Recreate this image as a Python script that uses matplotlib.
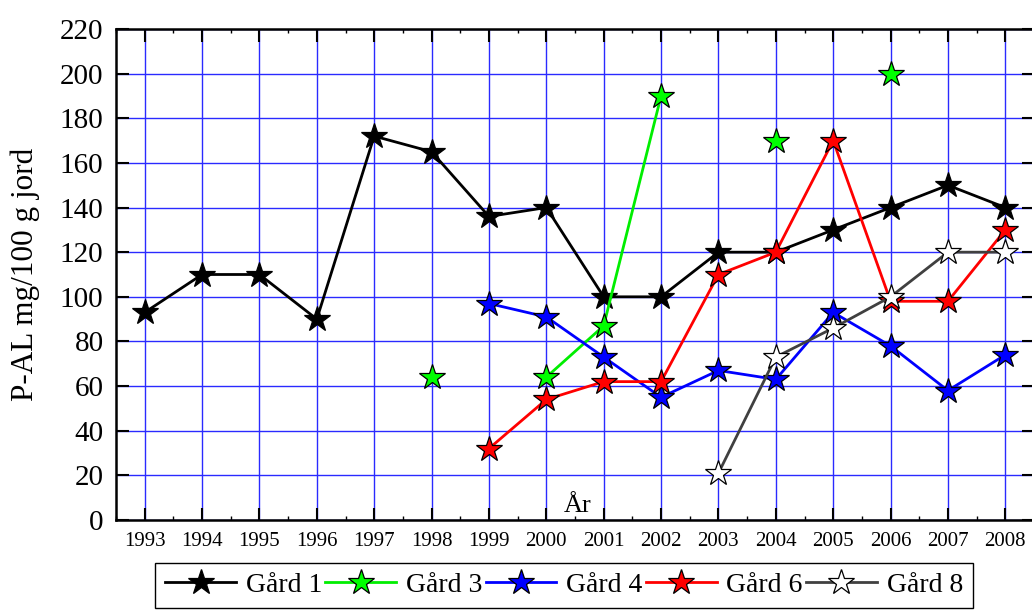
import numpy as np
import matplotlib
matplotlib.use("Agg")
import matplotlib.pyplot as plt
from matplotlib.ticker import MultipleLocator

plt.rcParams['font.family'] = ['Liberation Serif', 'DejaVu Serif']

years = list(range(1993, 2009))
nan = np.nan
gard1 = [93, 110, 110, 90, 172, 165, 136, 140, 100, 100, 120, 120, 130, 140, 150, 140]
gard3 = [nan, nan, nan, nan, nan, 64, nan, 64, 87, 190, nan, 170, nan, 200, nan, nan]
gard4 = [nan, nan, nan, nan, nan, nan, 97, 91, 73, 55, 67, 63, 93, 78, 58, 74]
gard6 = [nan, nan, nan, nan, nan, nan, 32, 54, 62, 62, 110, 120, 170, 98, 98, 130]
gard8 = [nan, nan, nan, nan, nan, nan, nan, nan, nan, nan, 21, 73, 86, 100, 120, 120]

series_names = ["Gård 1", "Gård 3", "Gård 4", "Gård 6", "Gård 8"]
series_vals = [gard1, gard3, gard4, gard6, gard8]
line_colors = ["#000000", "#00ee00", "#0000ff", "#ff0000", "#404040"]
face_colors = ["#000000", "#00ff00", "#0000ff", "#ff0000", "#ffffff"]

y_ticks = list(range(0, 221, 20))

fig = plt.figure(figsize=(10.32, 6.12), dpi=100)
ax = fig.add_axes([116 / 1032, 92 / 612, 918 / 1032, 491 / 612])

for i, (name, vals, lc, fc) in enumerate(zip(series_names, series_vals, line_colors, face_colors)):
    ax.plot(years, vals, color=lc, lw=2.0, marker='*', ms=19, mfc=fc, mec='black',
            mew=0.9, label=name, zorder=3 + i)

ax.set_xlim(1992.5, 2008.5)
ax.set_ylim(0, 220)
ax.set_xticks(years)
ax.set_xticklabels([str(y) for y in years], fontsize=15)
ax.set_yticks(y_ticks)
ax.set_yticklabels([str(v) for v in y_ticks], fontsize=21)
ax.xaxis.set_minor_locator(MultipleLocator(0.5))

ax.grid(True, which='major', color='#2a2aff', lw=1.0, zorder=0)
ax.set_axisbelow(True)

ax.tick_params(axis='both', which='major', direction='in', length=9, width=1.5,
               top=True, right=True, color='black')
ax.tick_params(axis='x', which='major', pad=9)
ax.tick_params(axis='y', which='major', pad=9)
ax.tick_params(axis='x', which='minor', direction='in', length=3, width=1.0,
               top=True, bottom=True)
for sp in ax.spines.values():
    sp.set_linewidth(1.8)

ax.set_ylabel("P-AL mg/100 g jord", fontsize=22.5, labelpad=14)
ax.text(2000.55, 3.5, "År", fontsize=19, ha='center', va='baseline', zorder=10)

leg = fig.legend(loc='upper center', bbox_to_anchor=(0.5465, 0.080), ncol=5,
                 fontsize=20, frameon=True, fancybox=False, edgecolor='black',
                 handlelength=2.55, handletextpad=0.35, columnspacing=0.12,
                 borderpad=0.35, borderaxespad=0.0, framealpha=1.0)
leg.get_frame().set_linewidth(1.0)

fig.savefig("out.png", dpi=100)
